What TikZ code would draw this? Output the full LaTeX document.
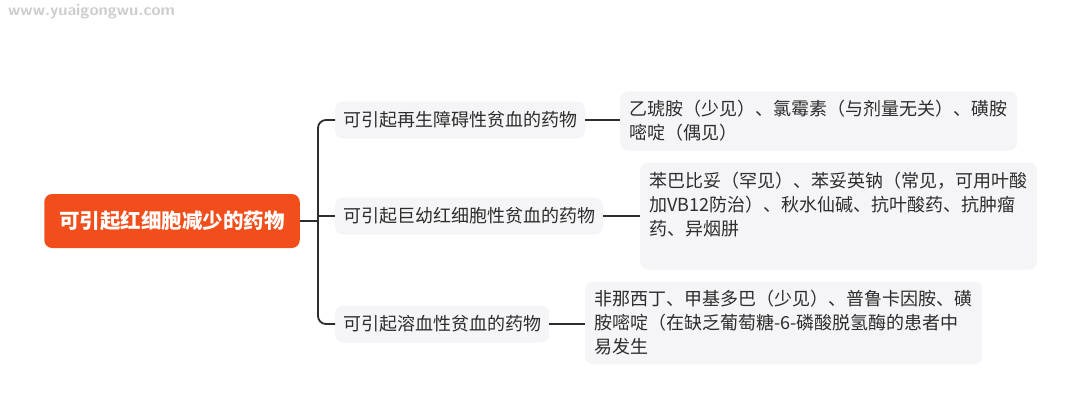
\documentclass[tikz,border=0pt]{standalone}
\usepackage{fontspec}
\usepackage{xcolor}
\setmainfont{Noto Sans CJK SC}
\newfontfamily\cjk{Noto Sans CJK SC}
\definecolor{rootred}{RGB}{242,78,28}
\definecolor{boxgray}{RGB}{245,245,247}
\definecolor{txtgray}{RGB}{45,45,45}
\definecolor{wmgray}{RGB}{205,205,205}

\begin{document}
\begin{tikzpicture}[x=1pt,y=-1pt]
\tikzset{
    r1/.style={%
        fill=rootred,
        rectangle,
        rounded corners=8pt,
        minimum height=54pt,
        inner xsep=15pt,
        text=white,
        font=\cjk\fontsize{20.5}{24}\selectfont\bfseries
        },
    c1/.style={%
        fill=boxgray,
        rectangle,
        rounded corners=8pt,
        minimum height=37pt,
        inner xsep=8pt,
        anchor=west,
        text=txtgray,
        font=\cjk\fontsize{18}{24}\selectfont
        },
    l1/.style={%
        fill=boxgray,
        rectangle,
        rounded corners=8pt,
        inner xsep=9pt,
        inner ysep=9pt,
        text width=379pt,
        align=left,
        anchor=west,
        text=txtgray,
        font=\cjk\fontsize{18}{24}\selectfont
        },
    link/.style={draw=txtgray, line width=1.8pt},
}
\useasboundingbox (0,0) rectangle (1080,416);
%%%WATERMARK
\node[anchor=west, inner sep=0pt, text=wmgray, font=\sffamily\fontsize{16.5}{18}\selectfont\bfseries] (wm) at (8,12) {www.yuaigongwu.com};
%%%ROOT
\node[r1] (root) at (172,221) {可引起红细胞减少的药物};
%%%BRANCHES
\node[c1] (aplastic) at (335,120) {可引起再生障碍性贫血的药物};
\node[c1] (megalo) at (335,216) {可引起巨幼红细胞性贫血的药物};
\node[c1] (hemo) at (335,324) {可引起溶血性贫血的药物};
%%%LEAVES
\node[l1] (drugsA) at (620,121) {乙琥胺（少见）、氯霉素（与剂量无关）、磺胺\\嘧啶（偶见）};
\node[l1, minimum height=107pt] (drugsM) at (640,216) {苯巴比妥（罕见）、苯妥英钠（常见，可用叶酸\\加VB12防治）、秋水仙碱、抗叶酸药、抗肿瘤\\药、异烟肼\\ \mbox{}};
\node[l1] (drugsH) at (585,323) {非那西丁、甲基多巴（少见）、普鲁卡因胺、磺\\胺嘧啶（在缺乏葡萄糖-6-磷酸脱氢酶的患者中\\易发生};
%%%CONNECTORS
\coordinate (spine) at (318,0);
\draw[link] (root.east) -- (root.east -| spine);
\draw[link, rounded corners=8pt] (aplastic.west) -- (aplastic.west -| spine) -- (hemo.west -| spine) -- (hemo.west);
\draw[link] (megalo.west -| spine) -- (megalo.west);
\draw[link] (aplastic.east) -- (aplastic.east -| drugsA.west);
\draw[link] (megalo.east) -- (megalo.east -| drugsM.west);
\draw[link] (hemo.east) -- (hemo.east -| drugsH.west);
\end{tikzpicture}
\end{document}
